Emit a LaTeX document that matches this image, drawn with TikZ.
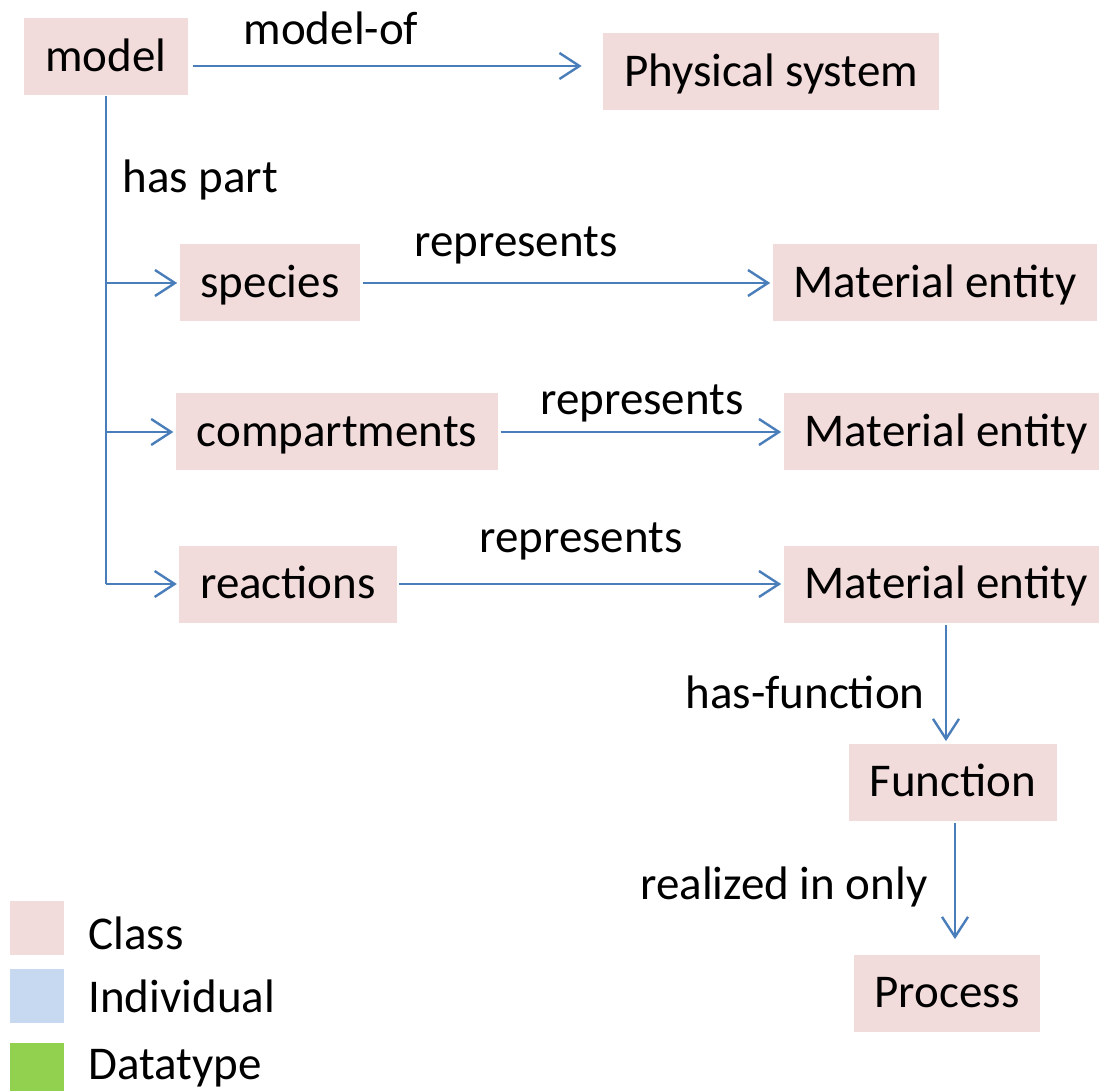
\documentclass[tikz,border=0pt]{standalone}
\usepackage{fontspec}
\setmainfont{Carlito}
\usetikzlibrary{arrows.meta}
\definecolor{clsfill}{HTML}{F2DCDB}
\definecolor{indfill}{HTML}{C6D9F1}
\definecolor{dtfill}{HTML}{92D050}
\definecolor{linkblue}{HTML}{4A7EBB}

\begin{document}
\begin{tikzpicture}[x=0.5pt,y=-0.5pt,
	cls/.style={fill=clsfill, minimum height=38.5pt, inner xsep=10.5pt, text height=17.5pt, text depth=3pt, font=\fontsize{23.5}{28}\selectfont},
	lbl/.style={font=\fontsize{23.5}{28}\selectfont, inner sep=0pt},
	swatch/.style={minimum size=27pt, inner sep=0pt},
	link/.style={draw=linkblue, line width=1.2pt, -{Straight Barb[length=10pt,width=13pt]}}]
				\useasboundingbox (0,0) rectangle (1099,1091);
				% classes
				\node[cls] (model) at (106,57) {model};
				\node[cls] (phys) at (771,72) {Physical system};
				\node[cls] (species) at (270,283) {species};
				\node[cls] (mat1) at (935,283) {Material entity};
				\node[cls] (comp) at (337,432) {compartments};
				\node[cls] (mat2) at (946,432) {Material entity};
				\node[cls] (react) at (288,584) {reactions};
				\node[cls] (mat3) at (946,584) {Material entity};
				\node[cls] (func) at (953,782) {Function};
				\node[cls] (proc) at (947,993) {Process};
				% relations
				\draw[link, shorten <=2.5pt, shorten >=10.5pt] ([yshift=-4.5pt]model.east) -- ([yshift=-4.5pt]model.east -| phys.west);
				\node[lbl] at (331,28) {model-of};
				\draw[draw=linkblue, line width=1.2pt] (model.south) -- (model.south |- react);
				\node[lbl, anchor=west] at (122,180) {has part};
				\draw[link, shorten >=1pt] (model.south |- species) -- (species.west);
				\draw[link, shorten >=1pt] (model.south |- comp) -- (comp.west);
				\draw[link, shorten >=1pt] (model.south |- react) -- (react.west);
				\draw[link, shorten <=1pt, shorten >=1pt] (species.east) -- (mat1.west);
				\node[lbl] at (516,245) {represents};
				\draw[link, shorten <=1pt, shorten >=1pt] (comp.east) -- (mat2.west);
				\node[lbl] at (642,403) {represents};
				\draw[link, shorten <=1pt, shorten >=1pt] (react.east) -- (mat3.west);
				\node[lbl] at (581,541) {represents};
				\draw[link, shorten <=1pt, shorten >=1pt] (mat3.south) -- (mat3.south |- func.north);
				\node[lbl, anchor=east] at (925,692) {has-function};
				\draw[link, shorten <=1pt, shorten >=7.5pt] ([xshift=1pt]func.south) -- ([xshift=1pt]func.south |- proc.north);
				\node[lbl, anchor=east] at (928,887) {realized in only};
				% legend
				\node[swatch, fill=clsfill] (clsbox) at (37,928) {};
				\node[lbl, anchor=west] at (88,933) {Class};
				\node[swatch, fill=indfill] (indbox) at (37,996) {};
				\node[lbl, anchor=west] at (88,996) {Individual};
				\node[swatch, fill=dtfill] (dtbox) at (37,1070) {};
				\node[lbl, anchor=west] at (88,1068) {Datatype};
			\end{tikzpicture}
\end{document}
